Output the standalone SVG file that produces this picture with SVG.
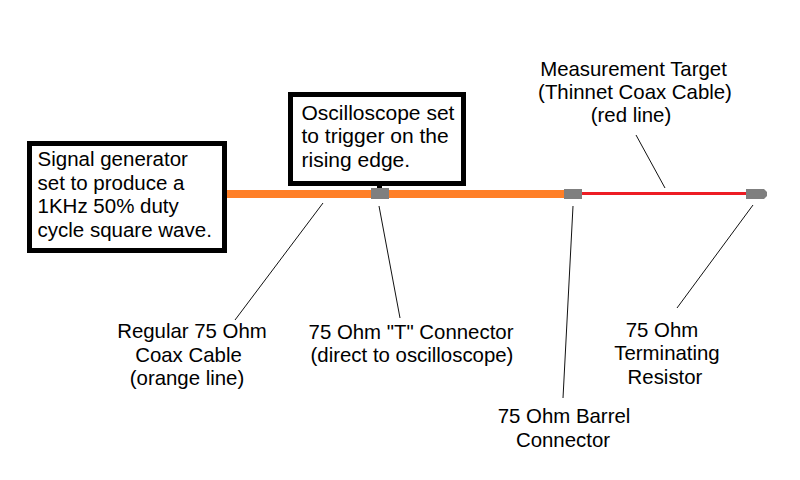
<svg xmlns="http://www.w3.org/2000/svg" width="800" height="480" viewBox="0 0 800 480">
<style>
text{font-family:"Liberation Sans",Arial,sans-serif;font-size:20.400px;fill:#000}
.b{font-size:20.500px}
.c{text-anchor:middle}
.box{fill:#fff;stroke:#000;stroke-width:5}
.lead{stroke:#111;stroke-width:1;fill:none}
.conn{fill:#7f7f7f}
</style>
<rect width="800" height="480" fill="#fff"/>
<g id="connectors">
<line x1="227" y1="194" x2="565" y2="194" stroke="#ff7f27" stroke-width="8"/>
<line x1="581" y1="193.500" x2="748" y2="193.500" stroke="#ed1c24" stroke-width="3"/>
<line x1="379.500" y1="186" x2="379.500" y2="189" stroke="#000" stroke-width="5"/>
<path class="lead" d="M323 203L235 320"/>
<path class="lead" d="M379 206L400 318"/>
<path class="lead" d="M636 135L665 188"/>
<path class="lead" d="M573 206L563 398"/>
<path class="lead" d="M753 205L677 308"/>
</g>
<g id="signal-generator">
<rect class="box" x="29.500" y="143.500" width="195" height="107"/>
<text class="b" x="37.500" y="166">Signal generator</text>
<text class="b" x="37.500" y="190">set to produce a</text>
<text class="b" x="37.500" y="213">1KHz 50% duty</text>
<text class="b" x="37.500" y="237">cycle square wave.</text>
</g>
<g id="oscilloscope">
<rect class="box" x="290.500" y="94.500" width="173" height="89"/>
<text class="b" x="301.500" y="120" style="font-size:21px">Oscilloscope set</text>
<text class="b" x="301.500" y="143" style="font-size:21px">to trigger on the</text>
<text class="b" x="301.500" y="167" style="font-size:21px">rising edge.</text>
</g>
<g id="t-connector"><rect class="conn" x="371" y="188" width="18" height="11"/></g>
<g id="barrel-connector"><rect class="conn" x="564" y="189" width="18" height="10"/></g>
<g id="terminator"><path class="conn" d="M746 189H764L767 192V196L764 199H746Z"/></g>
<g id="label-target">
<text class="c" x="633.500" y="76">Measurement Target</text>
<text class="c" x="635" y="99">(Thinnet Coax Cable)</text>
<text class="c" x="631" y="122">(red line)</text>
</g>
<g id="label-coax">
<text class="c" x="192" y="338">Regular 75 Ohm</text>
<text class="c" x="188.500" y="362">Coax Cable</text>
<text class="c" x="187" y="385">(orange line)</text>
</g>
<g id="label-t">
<text class="c" x="411" y="339">75 Ohm "T" Connector</text>
<text class="c" x="412" y="362">(direct to oscilloscope)</text>
</g>
<g id="label-barrel">
<text class="c" x="564" y="423">75 Ohm Barrel</text>
<text class="c" x="563" y="447">Connector</text>
</g>
<g id="label-terminator">
<text class="c" x="662" y="337">75 Ohm</text>
<text class="c" x="667" y="360">Terminating</text>
<text class="c" x="665" y="384">Resistor</text>
</g>
</svg>
